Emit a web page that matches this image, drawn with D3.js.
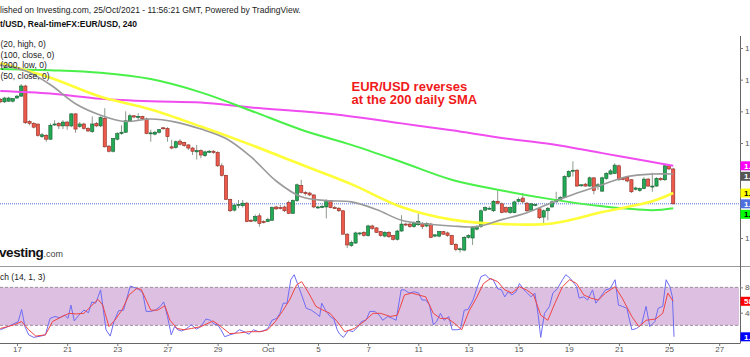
<!DOCTYPE html>
<html><head><meta charset="utf-8">
<script src="https://cdn.jsdelivr.net/npm/d3@7"></script>
<style>html,body{margin:0;padding:0;background:#fff;overflow:hidden}</style>
</head><body>
<svg id="c" width="750" height="357"></svg>
<script>
// ---------------- DATA ----------------
const headerLine1 = "lished on Investing.com, 25/Oct/2021 - 11:56:21 GMT, Powered by TradingView.";
const headerLine2 = "t/USD, Real-timeFX:EUR/USD, 240";
const legendLines = ["(20, high, 0)", "(100, close, 0)", "(200, low, 0)", "(50, close, 0)"];
const stochLegend = "ch (14, 1, 3)";
const annotation = ["EUR/USD reverses", "at the 200 daily SMA"];

// 4h candles, first one has index -4 (index 0 = 17 Sep 00:00)
const startIndex = -4;
// [open, high, low, close]
const candles = [
[1.1769,1.1771,1.1763,1.1765],[1.1765,1.1773,1.1763,1.1771],[1.1766,1.1773,1.1765,1.1771],[1.1766,1.1771,1.1764,1.1770],
[1.1771,1.1776,1.1770,1.1774],[1.1774,1.1793,1.1773,1.1790],[1.1790,1.1792,1.1730,1.1732],[1.1734,1.1736,1.1728,1.1731],
[1.1731,1.1733,1.1723,1.1725],[1.1730,1.1730,1.1710,1.1712],[1.1710,1.1716,1.1708,1.1713],[1.1712,1.1714,1.1702,1.1706],
[1.1706,1.1731,1.1705,1.1728],[1.1729,1.1736,1.1727,1.1730],[1.1731,1.1733,1.1722,1.1727],[1.1727,1.1736,1.1722,1.1733],
[1.1733,1.1735,1.1721,1.1727],[1.1727,1.1747,1.1725,1.1746],[1.1746,1.1747,1.1716,1.1722],[1.1726,1.1733,1.1724,1.1730],
[1.1730,1.1732,1.1721,1.1723],[1.1723,1.1725,1.1717,1.1719],[1.1718,1.1742,1.1716,1.1730],[1.1731,1.1733,1.1725,1.1727],
[1.1727,1.1742,1.1725,1.1740],[1.1739,1.1755,1.1693,1.1694],[1.1695,1.1697,1.1685,1.1687],[1.1687,1.1708,1.1685,1.1707],
[1.1706,1.1717,1.1704,1.1715],[1.1715,1.1728,1.1713,1.1717],[1.1717,1.1750,1.1716,1.1735],[1.1735,1.1746,1.1733,1.1743],
[1.1743,1.1744,1.1739,1.1741],[1.1741,1.1747,1.1736,1.1742],[1.1742,1.1743,1.1736,1.1738],[1.1738,1.1740,1.1714,1.1715],
[1.1715,1.1721,1.1702,1.1716],[1.1714,1.1719,1.1712,1.1717],[1.1717,1.1722,1.1715,1.1721],[1.1724,1.1725,1.1721,1.1723],
[1.1723,1.1725,1.1702,1.1710],[1.1694,1.1705,1.1690,1.1692],[1.1693,1.1704,1.1691,1.1702],[1.1703,1.1706,1.1696,1.1698],
[1.1701,1.1702,1.1694,1.1696],[1.1697,1.1698,1.1689,1.1692],[1.1692,1.1694,1.1681,1.1687],[1.1686,1.1697,1.1674,1.1688],
[1.1688,1.1690,1.1676,1.1681],[1.1680,1.1688,1.1678,1.1686],[1.1686,1.1689,1.1684,1.1687],[1.1687,1.1689,1.1683,1.1685],
[1.1685,1.1687,1.1662,1.1664],[1.1664,1.1668,1.1647,1.1649],[1.1649,1.1650,1.1610,1.1611],[1.1611,1.1612,1.1591,1.1593],
[1.1594,1.1604,1.1592,1.1602],[1.1602,1.1610,1.1597,1.1603],[1.1601,1.1610,1.1598,1.1605],[1.1605,1.1607,1.1575,1.1576],
[1.1578,1.1580,1.1575,1.1577],[1.1577,1.1587,1.1575,1.1584],[1.1585,1.1589,1.1568,1.1573],[1.1576,1.1578,1.1573,1.1575],
[1.1576,1.1582,1.1575,1.1579],[1.1578,1.1600,1.1577,1.1598],[1.1599,1.1601,1.1594,1.1596],[1.1598,1.1602,1.1595,1.1597],
[1.1599,1.1601,1.1591,1.1593],[1.1606,1.1609,1.1588,1.1589],[1.1589,1.1611,1.1588,1.1609],[1.1609,1.1636,1.1607,1.1634],
[1.1633,1.1642,1.1620,1.1622],[1.1622,1.1624,1.1617,1.1620],[1.1621,1.1623,1.1616,1.1618],[1.1618,1.1619,1.1597,1.1599],
[1.1598,1.1601,1.1596,1.1599],[1.1599,1.1603,1.1597,1.1600],[1.1599,1.1611,1.1581,1.1609],[1.1609,1.1610,1.1597,1.1598],
[1.1598,1.1601,1.1596,1.1597],[1.1597,1.1599,1.1591,1.1593],[1.1593,1.1594,1.1556,1.1556],[1.1556,1.1558,1.1534,1.1539],
[1.1538,1.1546,1.1536,1.1543],[1.1542,1.1560,1.1541,1.1558],[1.1557,1.1559,1.1554,1.1558],[1.1559,1.1561,1.1552,1.1554],
[1.1554,1.1571,1.1552,1.1569],[1.1569,1.1571,1.1563,1.1565],[1.1566,1.1567,1.1558,1.1559],[1.1560,1.1561,1.1552,1.1554],
[1.1553,1.1561,1.1551,1.1559],[1.1559,1.1561,1.1550,1.1552],[1.1554,1.1555,1.1546,1.1548],[1.1548,1.1563,1.1546,1.1561],
[1.1561,1.1586,1.1560,1.1572],[1.1572,1.1574,1.1569,1.1571],[1.1572,1.1574,1.1566,1.1568],[1.1568,1.1576,1.1566,1.1574],
[1.1571,1.1589,1.1569,1.1576],[1.1573,1.1575,1.1564,1.1568],[1.1569,1.1575,1.1567,1.1573],[1.1572,1.1574,1.1550,1.1551],
[1.1553,1.1556,1.1551,1.1555],[1.1553,1.1561,1.1551,1.1560],[1.1560,1.1561,1.1555,1.1556],[1.1558,1.1560,1.1552,1.1554],
[1.1554,1.1555,1.1539,1.1540],[1.1540,1.1542,1.1529,1.1532],[1.1532,1.1535,1.1527,1.1533],[1.1531,1.1553,1.1529,1.1551],
[1.1551,1.1556,1.1549,1.1554],[1.1550,1.1569,1.1539,1.1567],[1.1564,1.1570,1.1562,1.1568],[1.1568,1.1595,1.1566,1.1593],
[1.1594,1.1600,1.1592,1.1598],[1.1596,1.1600,1.1595,1.1597],[1.1593,1.1610,1.1591,1.1608],[1.1608,1.1625,1.1603,1.1605],
[1.1604,1.1606,1.1589,1.1590],[1.1598,1.1600,1.1590,1.1591],[1.1590,1.1600,1.1588,1.1598],[1.1590,1.1609,1.1589,1.1607],
[1.1608,1.1614,1.1606,1.1611],[1.1613,1.1621,1.1605,1.1607],[1.1605,1.1607,1.1591,1.1593],[1.1594,1.1605,1.1593,1.1604],
[1.1602,1.1604,1.1600,1.1603],[1.1596,1.1598,1.1580,1.1582],[1.1583,1.1595,1.1572,1.1593],[1.1593,1.1599,1.1578,1.1597],
[1.1599,1.1609,1.1598,1.1607],[1.1607,1.1623,1.1606,1.1611],[1.1611,1.1616,1.1610,1.1614],[1.1614,1.1649,1.1613,1.1647],
[1.1647,1.1657,1.1645,1.1655],[1.1656,1.1671,1.1647,1.1657],[1.1657,1.1659,1.1631,1.1632],[1.1633,1.1635,1.1631,1.1634],
[1.1635,1.1637,1.1631,1.1632],[1.1632,1.1647,1.1631,1.1645],[1.1645,1.1646,1.1619,1.1625],[1.1631,1.1637,1.1626,1.1634],
[1.1624,1.1647,1.1623,1.1645],[1.1644,1.1654,1.1642,1.1652],[1.1651,1.1659,1.1650,1.1656],[1.1652,1.1668,1.1651,1.1665],
[1.1664,1.1666,1.1640,1.1642],[1.1644,1.1646,1.1641,1.1643],[1.1646,1.1648,1.1638,1.1640],[1.1642,1.1643,1.1621,1.1623],
[1.1627,1.1631,1.1625,1.1629],[1.1625,1.1630,1.1623,1.1628],[1.1628,1.1646,1.1627,1.1643],[1.1643,1.1645,1.1631,1.1632],
[1.1631,1.1653,1.1623,1.1632],[1.1632,1.1646,1.1631,1.1644],[1.1644,1.1646,1.1640,1.1642],[1.1642,1.1666,1.1640,1.1664],
[1.1664,1.1666,1.1657,1.1659],[1.1659,1.1661,1.1603,1.1604]
];

// moving averages read at candle indices
const maIdx    = [-4, 8, 20, 32, 44, 56, 68, 80, 92, 104, 116, 128, 140, 152, 157];
const sma200Low = [1.1782,1.1778,1.1770,1.1766,1.1764,1.1756,1.1750,1.1742,1.1731,1.1720,1.1708,1.1698,1.1684,1.1670,1.1664];
const sma100    = [1.1817,1.1815,1.1811,1.1801,1.1780,1.1751,1.1721,1.1697,1.1670,1.1642,1.1625,1.1611,1.1600,1.1594,1.1597];
const sma50     = [1.1826,1.1803,1.1773,1.1753,1.1726,1.1697,1.1666,1.1635,1.1599,1.1579,1.1572,1.1573,1.1591,1.1608,1.1621];
const grayIdx   = [-4,2,8,14,20,26,32,38,44,50,56,62,68,74,80,86,92,98,104,110,116,122,128,134,140,146,152,157];
const sma20High = [1.1823,1.1814,1.1792,1.1762,1.1744,1.1734,1.1738,1.1733,1.1722,1.1707,1.1678,1.1640,1.1615,1.1609,1.1607,1.1595,1.1578,1.1572,1.1569,1.1568,1.1579,1.1590,1.1606,1.1621,1.1634,1.1647,1.1651,1.1651];

// stochastic %K and %D  [candle index, value]
const stochK = [[-4,13],[-1.8,19],[0.3,26],[1.1,45],[1.9,18],[2.8,5],[4,1],[5.7,3],[6.8,5],[7.9,31],[9.1,34],[10.2,32],[11.4,36],[12.2,31],[12.9,52],[13.7,27],[14.8,36],[16,44],[17.1,40],[17.9,57],[18.8,55],[19.4,65],[20,76],[20.5,52],[21.3,13],[22.3,3],[23.2,26],[24.3,43],[25.5,44],[26.3,63],[27.1,82],[28,80],[29.1,77],[30.1,71],[30.9,42],[32,42],[33.1,44],[34.3,50],[35.1,57],[36,34],[36.9,5],[37.7,18],[38.5,13],[39.4,11],[40.6,15],[41.7,21],[42.9,14],[44,18],[45.2,30],[46.3,28],[47.2,22],[48,21],[48.8,13],[49.7,2],[50.9,5],[52,7],[53.2,13],[54.3,10],[55.5,6],[56.6,13],[57.8,10],[58.9,11],[60,15],[61,28],[62.1,31],[62.9,39],[63.7,55],[64.6,55],[65.5,92],[66.3,100],[67.1,86],[68.1,68],[69.2,47],[70.4,44],[71.5,39],[72.4,34],[72.9,55],[73.8,44],[74.9,34],[75.8,30],[76.6,13],[77.2,6],[78.1,1],[79.3,12],[80.4,10],[81.6,18],[82.4,26],[83.5,28],[84.4,42],[85.6,42],[86.7,36],[87.5,28],[88.7,34],[89.8,31],[90.7,28],[91.9,76],[92.7,76],[93.8,71],[95,73],[96.1,71],[96.9,60],[97.8,60],[98.7,52],[99.6,21],[100.4,26],[101.3,39],[102.2,28],[103.3,34],[104.1,13],[105.3,13],[106.1,14],[107,44],[107.9,45],[109.1,60],[109.9,76],[111,97],[112.1,100],[112.9,94],[113.9,92],[115,78],[115.9,76],[116.7,65],[117.5,73],[118.4,68],[119.4,73],[120.2,86],[121.3,76],[122.1,71],[123,65],[123.9,71],[124.7,36],[125.3,1],[126.2,39],[127.4,50],[128.2,71],[129.3,78],[130.5,92],[131.3,100],[132.4,94],[133.3,86],[133.9,81],[134.5,63],[135.6,65],[136.5,60],[137.7,76],[138.5,55],[139.6,65],[140.8,76],[141.9,78],[143.1,92],[143.9,52],[144.8,50],[145.9,47],[147.1,13],[148.2,15],[149.4,21],[150.5,50],[151.4,18],[152.6,26],[153.4,47],[154.5,50],[155.3,92],[156.2,81],[156.8,65],[157.2,1.9]];
const stochD = [[-4,15],[-0.6,21],[1.1,26],[2.8,13],[4.5,3],[6.8,5],[8.5,26],[10.8,34],[12.5,39],[14.2,38],[16,39],[17.7,50],[19.4,61],[20.5,52],[22,18],[23.4,28],[25.1,44],[26.8,68],[28.6,78],[29.7,77],[30.9,60],[32,44],[33.7,44],[35.4,51],[36.6,28],[38.3,15],[40,13],[41.7,15],[44,18],[46.9,27],[48.6,19],[50.9,7],[53.2,8],[55.5,10],[58.3,10],[60,13],[61.8,26],[63.5,42],[65.2,60],[66.9,84],[68.1,89],[69.8,71],[71.5,50],[73.2,44],[74.9,39],[76.6,26],[78.4,10],[80.7,15],[83,26],[85.2,39],[87,39],[89.3,34],[91,36],[92.7,68],[94.4,71],[96.1,68],[97.8,65],[99.6,39],[101.3,31],[103,31],[104.7,23],[106.4,13],[108.1,42],[109.9,63],[111.6,86],[113.3,94],[115,89],[116.7,76],[118.4,71],[120.2,81],[121.9,76],[123.6,68],[125.3,36],[127,28],[128.7,55],[130.5,81],[132.2,92],[133.9,86],[135.6,68],[137.3,63],[139.1,60],[140.8,71],[143.1,81],[144.8,63],[147.1,34],[148.8,18],[150.5,28],[152.8,30],[154.5,39],[155.7,71],[157,58]];

const xTickIdx    = [0, 12, 24, 36, 48, 60, 72, 84, 96, 108, 120, 132, 144, 156, 168];
const xTickLabels = ["17","21","23","27","29","Oct","5","7","11","13","15","19","21","25","27"];
const priceTicks  = [1.155, 1.160, 1.165, 1.170, 1.175, 1.180, 1.185];
const stochTicks  = [80, 40];
const stochBand   = [20, 80];

// ---------------- LAYOUT ----------------
const FONT = "'Liberation Sans', Arial, Helvetica, sans-serif";
const paneRight = 740, mainTop = 36, mainBottom = 266, stochTop = 267, stochBottom = 343;

const svg = d3.select('#c');
const x  = d3.scaleLinear().domain([0, 168]).range([17, 719.2]);
const y  = d3.scaleLinear().domain([1.155, 1.185]).range([238, 48]);
const ys = d3.scaleLinear().domain([0, 100]).range([338, 274.7]);

const defs = svg.append('defs');
defs.append('clipPath').attr('id','mainClip').append('rect')
  .attr('x',0).attr('y',mainTop).attr('width',paneRight).attr('height',mainBottom-mainTop);
defs.append('clipPath').attr('id','stochClip').append('rect')
  .attr('x',0).attr('y',stochTop).attr('width',paneRight).attr('height',stochBottom-stochTop);

// header texts
svg.append('text').attr('x',0).attr('y',13.3).attr('font-family',FONT).attr('font-size',8.5)
  .attr('fill','#222').text(headerLine1);
svg.append('text').attr('x',0).attr('y',26.5).attr('font-family',FONT).attr('font-size',8.5)
  .attr('font-weight','bold').attr('fill','#111').text(headerLine2);

// ---------- main pane ----------
const main = svg.append('g').attr('clip-path','url(#mainClip)');

// watermark
const wm = main.append('text').attr('x',-1).attr('y',257).attr('font-family',FONT);
wm.append('tspan').attr('font-size',13.5).attr('font-weight','bold').attr('fill','#111').attr('letter-spacing',-0.4).text('vesting');
wm.append('tspan').attr('font-size',9).attr('fill','#444').text('.com');

// price line
const lastClose = candles[candles.length-1][3];
main.append('line').attr('x1',0).attr('x2',paneRight)
  .attr('y1',y(lastClose)).attr('y2',y(lastClose))
  .attr('stroke','#4f6fdf').attr('stroke-width',1).attr('stroke-dasharray','1,1');

// candles
const cg = main.append('g');
const cData = candles.map((c,k)=>({i:startIndex+k,o:c[0],h:c[1],l:c[2],c:c[3]}));
cg.selectAll('line.w').data(cData).join('line').attr('class','w')
  .attr('x1',d=>x(d.i)).attr('x2',d=>x(d.i))
  .attr('y1',d=>y(d.h)).attr('y2',d=>y(d.l))
  .attr('stroke','#8c9a8c').attr('stroke-width',1);
cg.selectAll('rect.b').data(cData).join('rect').attr('class','b')
  .attr('x',d=>x(d.i)-1.6).attr('width',3.2)
  .attr('y',d=>y(Math.max(d.o,d.c)))
  .attr('height',d=>Math.max(1, Math.abs(y(d.o)-y(d.c))))
  .attr('fill',d=>d.c>=d.o?'#22aa55':'#ec5a4c')
  .attr('stroke',d=>d.c>=d.o?'#145c30':'#8e2a22').attr('stroke-width',0.6);

// moving averages
const maLine = d3.line().x(d=>x(d[0])).y(d=>y(d[1])).curve(d3.curveCatmullRom.alpha(0.5));
const maDefs = [
  {idx:maIdx, vals:sma200Low, color:'#f04cf0', w:2},
  {idx:maIdx, vals:sma100,    color:'#48f048', w:2},
  {idx:maIdx, vals:sma50,     color:'#ffff38', w:2.6},
  {idx:grayIdx, vals:sma20High, color:'#9a9a9a', w:1.6}
];
maDefs.forEach(m=>{
  main.append('path').datum(m.idx.map((v,k)=>[v,m.vals[k]]))
    .attr('d',maLine).attr('fill','none').attr('stroke',m.color).attr('stroke-width',m.w)
    .attr('stroke-linejoin','round');
});

// legends
legendLines.forEach((t,k)=>{
  svg.append('text').attr('x',0.5).attr('y',47+k*10.5).attr('font-family',FONT)
    .attr('font-size',8.5).attr('fill','#222').text(t);
});

// annotation
annotation.forEach((t,k)=>{
  svg.append('text').attr('x',351.5).attr('y',90.7+k*13.6).attr('font-family',FONT)
    .attr('font-size',13).attr('font-weight','bold').attr('fill','#f01a1a').text(t);
});

// ---------- stochastic pane ----------
const st = svg.append('g').attr('clip-path','url(#stochClip)');
st.append('rect').attr('x',0).attr('width',paneRight-1)
  .attr('y',ys(stochBand[1])).attr('height',ys(stochBand[0])-ys(stochBand[1]))
  .attr('fill','#ddc0e1');
stochBand.forEach(v=>{
  st.append('line').attr('x1',0).attr('x2',paneRight-1).attr('y1',ys(v)).attr('y2',ys(v))
    .attr('stroke','#9a8f9a').attr('stroke-width',1).attr('stroke-dasharray','3,2');
});
const sLine = d3.line().x(d=>x(d[0])).y(d=>ys(d[1]));
st.append('path').datum(stochK).attr('d',sLine).attr('fill','none').attr('stroke','#6e6cf2').attr('stroke-width',1);
st.append('path').datum(stochD).attr('d',sLine).attr('fill','none').attr('stroke','#f04444').attr('stroke-width',1);
svg.append('text').attr('x',0).attr('y',279.5).attr('font-family',FONT).attr('font-size',8.5)
  .attr('fill','#222').text(stochLegend);

// ---------- frame lines ----------
svg.append('line').attr('x1',0).attr('x2',750).attr('y1',266.5).attr('y2',266.5).attr('stroke','#999').attr('stroke-width',1);
svg.append('line').attr('x1',paneRight+0.5).attr('x2',paneRight+0.5).attr('y1',mainTop).attr('y2',stochBottom+0.5).attr('stroke','#666').attr('stroke-width',1);

// ---------- value labels positions (needed to hide covered tick texts) ----------
const fmt = d3.format('.4f');
let priceLabels = [
  {v:sma200Low[sma200Low.length-1], fill:'#ff00ff', tc:'#fff'},
  {v:sma20High[sma20High.length-1], fill:'#555555', tc:'#fff'},
  {v:sma50[sma50.length-1], fill:'#ffff00', tc:'#000'},
  {v:lastClose, fill:'#4f6fdf', tc:'#fff'},
  {v:sma100[sma100.length-1], fill:'#00ff00', tc:'#000'}
].map(d=>Object.assign(d,{yy:y(d.v), t:fmt(d.v)}));
priceLabels.sort((a,b)=>a.yy-b.yy);
for(let k=1;k<priceLabels.length;k++){
  if(priceLabels[k].yy < priceLabels[k-1].yy + 10.5) priceLabels[k].yy = priceLabels[k-1].yy + 10.5;
}
const stochLabels = [
  {v:stochD[stochD.length-1][1], fill:'#ff0000', tc:'#fff', t:d3.format('d')(stochD[stochD.length-1][1])},
  {v:stochK[stochK.length-1][1], fill:'#0000ff', tc:'#fff', t:d3.format('.2f')(stochK[stochK.length-1][1])}
].map(d=>Object.assign(d,{yy:ys(d.v)}));
const allLabels = priceLabels.concat(stochLabels);

// ---------- axes ----------
function styleAxis(g, scale){
  g.select('.domain').remove();
  g.selectAll('.tick line').attr('stroke','#777');
  g.selectAll('.tick text').attr('fill','#555').attr('font-family',FONT).attr('font-size',8);
  if(scale){
    g.selectAll('.tick').filter(d=>allLabels.some(l=>Math.abs(l.yy-scale(d))<8))
      .select('text').remove();
  }
}
svg.append('g').attr('transform',`translate(${paneRight},0)`)
  .call(d3.axisRight(y).tickValues(priceTicks).tickFormat(d3.format('.4f')).tickSize(3).tickPadding(2))
  .call(g=>styleAxis(g,y));
svg.append('g').attr('transform',`translate(${paneRight},0)`)
  .call(d3.axisRight(ys).tickValues(stochTicks).tickFormat(d3.format('d')).tickSize(3).tickPadding(2))
  .call(g=>styleAxis(g,ys));
svg.append('g').attr('transform',`translate(0,${stochBottom})`)
  .call(d3.axisBottom(x).tickValues(xTickIdx).tickFormat((d,k)=>xTickLabels[k]).tickSize(3).tickPadding(0))
  .call(g=>styleAxis(g,null));
svg.append('line').attr('x1',0).attr('x2',paneRight).attr('y1',stochBottom+0.5).attr('y2',stochBottom+0.5).attr('stroke','#666');

// ---------- value labels on right axis ----------
allLabels.forEach(d=>{
  svg.append('rect').attr('x',paneRight+0.5).attr('y',d.yy-4.5).attr('width',40).attr('height',9).attr('fill',d.fill);
  svg.append('text').attr('x',paneRight+4).attr('y',d.yy+3).attr('font-family',FONT).attr('font-size',8)
    .attr('font-weight','bold').attr('fill',d.tc).text(d.t);
});
</script>
</body></html>
